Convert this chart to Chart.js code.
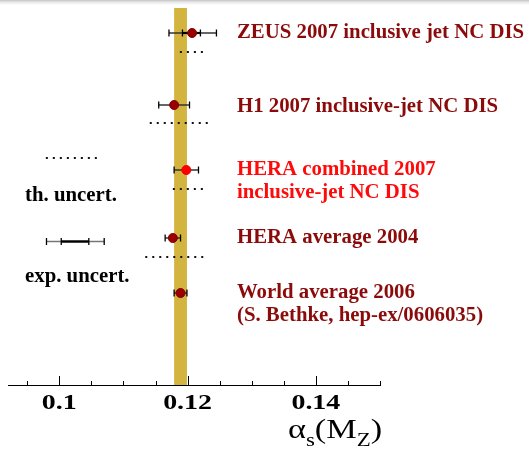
<!DOCTYPE html>
<html>
<head>
<meta charset="utf-8">
<script src="https://cdn.jsdelivr.net/npm/chart.js@4.4.1/dist/chart.umd.min.js"></script>
<style>
  html, body { margin: 0; padding: 0; }
  body { width: 529px; height: 449px; background: linear-gradient(#c2c2c2 0px, #e6e6e6 2px, #ffffff 5px); }
</style>
</head>
<body>
<canvas id="chart" width="529" height="449"></canvas>
<script>
// alpha_s(M_Z) measurements, top to bottom
const names = [
  ["ZEUS 2007 inclusive jet NC DIS"],
  ["H1 2007 inclusive-jet NC DIS"],
  ["HERA combined 2007", "inclusive-jet NC DIS"],
  ["HERA average 2004"],
  ["World average 2006", "(S. Bethke, hep-ex/0606035)"]
];
const nameColors = ["#8b0a0a", "#8b0a0a", "#ff0a0a", "#8b0a0a", "#8b0a0a"];
const centers = [0.1207, 0.1179, 0.1198, 0.1177, 0.1189];
const expLo   = [0.1171, 0.1155, 0.1179, 0.1165, 0.1179];
const expHi   = [0.1245, 0.1203, 0.1217, 0.1189, 0.1199];
const statLo  = [0.1192, null, null, null, null];
const statHi  = [0.1220, null, null, null, null];
const thLo    = [0.1188, 0.1141, 0.1177, 0.1134, null];
const thHi    = [0.1224, 0.1233, 0.1224, 0.1228, null];

// vertical row positions (0 = top of plot)
const rows     = [25, 97, 162, 230, 285];
const thRows   = [44, 115, 181, 249, null];
const nameRows = [30, 104, 167, 235, 290];

// world average band
const bandLo = 0.1179;
const bandHi = 0.1199;

// legend samples
const legThLo = 0.0979, legThHi = 0.1060, legThRow = 150;
const legExpLo = 0.0980, legExpHi = 0.1070, legStatLo = 0.1003, legStatHi = 0.1046, legExpRow = 233.5;

const xTicks = [0.095, 0.1, 0.105, 0.11, 0.115, 0.12, 0.125, 0.13, 0.135, 0.14, 0.145, 0.15];
const xLabels = {"0.1": "0.1", "0.12": "0.12", "0.14": "0.14"};

function tickLabel(v) {
  return xLabels[String(+v.toFixed(3))];
}

function seg(lo, hi, y) {
  return [{x: lo, y: y}, {x: hi, y: y}];
}

const datasets = [];

datasets.push({
  data: [{x: (bandLo + bandHi) / 2, y: 0}, {x: (bandLo + bandHi) / 2, y: 377}],
  showLine: true,
  borderColor: "#d3b43e",
  borderWidth: c => {
    const s = c.chart.scales.x;
    return s.getPixelForValue(bandHi) - s.getPixelForValue(bandLo);
  },
  borderCapStyle: "butt",
  pointRadius: 0,
  order: 10
});

function dotted(lo, hi, y) {
  datasets.push({
    data: seg(lo, hi, y),
    showLine: true,
    borderColor: "#111",
    borderWidth: 2,
    borderDash: [2, 5],
    borderCapStyle: "butt",
    pointRadius: 0,
    order: 5
  });
}

function errBar(lo, hi, y, color, width, order) {
  datasets.push({
    data: seg(lo, hi, y),
    showLine: true,
    borderColor: color,
    borderWidth: width,
    pointStyle: "line",
    rotation: 90,
    pointRadius: 3.5,
    pointBorderColor: "#000",
    pointBorderWidth: 1.3,
    order: order
  });
}

for (let i = 0; i < centers.length; i++) {
  if (thLo[i] !== null) dotted(thLo[i], thHi[i], thRows[i]);
  errBar(expLo[i], expHi[i], rows[i], "#333", 1.5, 4);
  if (statLo[i] !== null) errBar(statLo[i], statHi[i], rows[i], "#000", 2.2, 3);
}

dotted(legThLo, legThHi, legThRow);
errBar(legExpLo, legExpHi, legExpRow, "#777", 1.3, 4);
errBar(legStatLo, legStatHi, legExpRow, "#000", 2.4, 3);

datasets.push({
  data: centers.map((c, i) => ({x: c, y: rows[i]})),
  pointRadius: 4.5,
  pointBackgroundColor: centers.map((c, i) => i === 2 ? "#ff0000" : "#9a0000"),
  pointBorderColor: centers.map((c, i) => i === 2 ? "#ee0000" : "#800000"),
  pointBorderWidth: 1,
  order: 1
});

// inward tick marks (major longer) and wide bold tick labels
const tickMarks = {
  id: "tickMarks",
  afterDatasetsDraw(chart) {
    const ctx = chart.ctx, s = chart.scales.x, b = chart.chartArea.bottom;
    ctx.save();
    ctx.strokeStyle = "#000";
    ctx.lineWidth = 1;
    xTicks.forEach(v => {
      const x = Math.round(s.getPixelForValue(v)) + 0.5;
      ctx.beginPath();
      ctx.moveTo(x, b);
      ctx.lineTo(x, b - (tickLabel(v) ? 9 : 4));
      ctx.stroke();
    });
    ctx.fillStyle = "#000";
    ctx.font = "bold 22px 'Liberation Serif'";
    ctx.textAlign = "center";
    ctx.textBaseline = "alphabetic";
    xTicks.forEach(v => {
      const t = tickLabel(v);
      if (!t) return;
      ctx.save();
      ctx.translate(s.getPixelForValue(v), b + 24);
      ctx.scale(1.27, 1);
      ctx.fillText(t, 0, 0);
      ctx.restore();
    });
    ctx.restore();
  }
};

// measurement names, legend words and axis title
const texts = {
  id: "texts",
  afterDatasetsDraw(chart) {
    const ctx = chart.ctx, sx = chart.scales.x, sy = chart.scales.y;
    ctx.save();
    ctx.textBaseline = "alphabetic";
    ctx.textAlign = "left";
    ctx.font = "bold 20.8px 'Liberation Serif'";
    const tx = sx.getPixelForValue(0.1277);
    names.forEach((lines, i) => {
      ctx.fillStyle = nameColors[i];
      lines.forEach((t, j) => {
        ctx.fillText(t, tx, sy.getPixelForValue(nameRows[i] + j * 23));
      });
    });

    ctx.fillStyle = "#000";
    const lx = sx.getPixelForValue(0.09465);
    ctx.fillText("th. uncert.", lx, sy.getPixelForValue(193));
    ctx.fillText("exp. uncert.", lx, sy.getPixelForValue(274));

    // alpha_s(M_Z), stretched horizontally like the original
    ctx.translate(288, 438);
    ctx.scale(1.27, 1);
    let x = 0;
    const part = (t, size, dy) => {
      ctx.font = size + "px 'Liberation Serif'";
      ctx.fillText(t, x, dy);
      x += ctx.measureText(t).width;
    };
    part("\u03b1", 27, 0);
    part("s", 18, 8);
    part("(M", 27, 0);
    part("Z", 18, 8);
    part(")", 27, 0);
    ctx.restore();
  }
};

new Chart(document.getElementById("chart"), {
  type: "scatter",
  data: { datasets },
  options: {
    responsive: false,
    animation: false,
    devicePixelRatio: 1,
    events: [],
    layout: { padding: { left: 8, right: 149, top: 8, bottom: 0 } },
    plugins: {
      legend: { display: false },
      tooltip: { enabled: false }
    },
    scales: {
      x: {
        type: "linear",
        min: 0.092,
        max: 0.15,
        grid: { display: false },
        border: { display: true, color: "#000", width: 1 },
        afterBuildTicks: s => { s.ticks = xTicks.map(v => ({ value: v })); },
        afterFit: s => { s.height = 64; },
        ticks: { display: false }
      },
      y: {
        type: "linear",
        min: 0,
        max: 377,
        reverse: true,
        display: false
      }
    }
  },
  plugins: [tickMarks, texts]
});
</script>
</body>
</html>
